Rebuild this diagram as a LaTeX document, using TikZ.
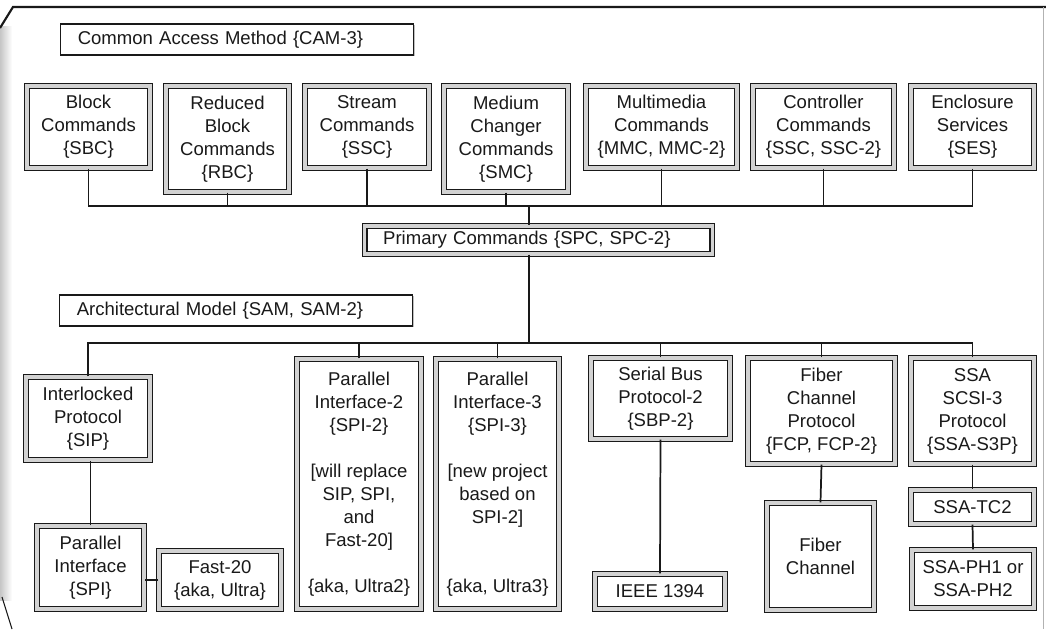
\documentclass[tikz,border=0pt]{standalone}
\usepackage{fontspec}
\setmainfont{Liberation Sans}
\usetikzlibrary{shadows}

\begin{document}
\begin{tikzpicture}[
  x=0.75pt,y=-0.75pt,
  every node/.style={font=\fontsize{13.9pt}{17.25pt}\selectfont,text=black!90},
  boxdim/.style 2 args={minimum width=#1*0.75pt,minimum height=#2*0.75pt},
  cmdbox/.style={draw=black!90,line width=1pt,double=gray!35,double distance=2.4pt,fill=white,
    align=center,inner sep=0pt,drop shadow={shadow xshift=1pt,shadow yshift=-1pt,fill=gray!50,opacity=1}},
  tagbox/.style={draw=black!90,line width=1.3pt,fill=white,align=left,inner xsep=13pt,inner ysep=0pt,
    text width=238.8pt,drop shadow={shadow xshift=1pt,shadow yshift=-1pt,fill=gray!50,opacity=1}},
  link/.style={draw=black!90,line width=1.3pt}
]
\useasboundingbox (0,0) rectangle (1046,629);

\shade[left color=gray!45,right color=white] (0,26) rectangle (12,600);
\draw[black!90,line width=1.6pt] (0,28) -- (13,7) -- (1046,7);
\draw[gray!60,line width=0.6pt] (1043,7) -- (1043,629);
\draw[black!90,line width=0.8pt] (2,597) -- (12,629);

\node[tagbox,boxdim={352}{31}] (cam) at (237,39.5) {Common Access Method \{CAM-3\}};

\node[cmdbox,boxdim={123}{82}] (block) at (88.5,127) {Block\\Commands\\\{SBC\}};
\node[cmdbox,boxdim={123}{106}] (reduced) at (227.5,139) {Reduced\\Block\\Commands\\\{RBC\}};
\node[cmdbox,boxdim={124}{82}] (stream) at (367,127) {Stream\\Commands\\\{SSC\}};
\node[cmdbox,boxdim={124}{106}] (medium) at (506,139) {Medium\\Changer\\Commands\\\{SMC\}};
\node[cmdbox,boxdim={151}{82}] (multimedia) at (661.5,127) {Multimedia\\Commands\\\{MMC, MMC-2\}};
\node[cmdbox,boxdim={141}{82}] (controller) at (823.5,127) {Controller\\Commands\\\{SSC, SSC-2\}};
\node[cmdbox,boxdim={123}{82}] (enclosure) at (972.5,127) {Enclosure\\Services\\\{SES\}};

\coordinate (topbus) at (529,206);
\node[cmdbox,boxdim={347}{28},align=left,text width=233pt,inner xsep=13.9pt] (primary) at (538.5,240)
  {Primary Commands \{SPC, SPC-2\}};

\node[tagbox,boxdim={352}{31}] (sam) at (236,310.5) {Architectural Model \{SAM, SAM-2\}};

\coordinate (lowbus) at (529,343);
\node[cmdbox,boxdim={124}{83}] (sip) at (88,418.5) {Interlocked\\Protocol\\\{SIP\}};
\node[cmdbox,boxdim={124}{250}] (spitwo) at (359,484)
  {Parallel\\Interface-2\\\{SPI-2\}\\[17.25pt]{[}will replace\\SIP, SPI,\\and\\Fast-20{]}\\[17.25pt]\{aka, Ultra2\}};
\node[cmdbox,boxdim={123}{250}] (spithree) at (497.5,484)
  {Parallel\\Interface-3\\\{SPI-3\}\\[17.25pt]{[}new project\\based on\\SPI-2{]}\\[34.5pt]\{aka, Ultra3\}};
\node[cmdbox,boxdim={139}{81}] (sbp) at (660.5,398.5) {Serial Bus\\Protocol-2\\\{SBP-2\}};
\node[cmdbox,boxdim={147}{106}] (fcp) at (821.5,411) {Fiber\\Channel\\Protocol\\\{FCP, FCP-2\}};
\node[cmdbox,boxdim={123}{106}] (ssa) at (972.5,411) {SSA\\SCSI-3\\Protocol\\\{SSA-S3P\}};

\node[cmdbox,boxdim={107}{83}] (spi) at (90.5,567.5) {Parallel\\Interface\\\{SPI\}};
\node[cmdbox,boxdim={122}{58}] (fast) at (220,580) {Fast-20\\\{aka, Ultra\}};
\node[cmdbox,boxdim={130}{35}] (ieee) at (660,591.5) {IEEE 1394};
\node[cmdbox,boxdim={107}{107}] (fiber) at (820.5,556.5) {Fiber\\Channel};
\node[cmdbox,boxdim={123}{34}] (tc) at (972.5,507) {SSA-TC2};
\node[cmdbox,boxdim={122}{58}] (ph) at (973,579) {SSA-PH1 or\\SSA-PH2};

\foreach \n in {block,reduced,stream,medium,multimedia,controller,enclosure}
  \draw[link] (\n.south) |- (topbus);
\draw[link] (topbus) -- (topbus |- primary.north);
\draw[link] (lowbus |- primary.south) -- (lowbus);
\foreach \n in {sip,spitwo,spithree,sbp,fcp,ssa}
  \draw[link] (\n.north) |- (lowbus);

\draw[link] (spi.north) -- (spi.north |- sip.south);
\draw[link] (fast.west) -- (fast.west -| spi.east);
\draw[link] (sbp.south) -- (ieee.north);
\draw[link] (fcp.south) -- (fiber.north);
\draw[link] (ssa.south) -- (tc.north);
\draw[link] (tc.south) -- (ph.north);
\end{tikzpicture}
\end{document}
